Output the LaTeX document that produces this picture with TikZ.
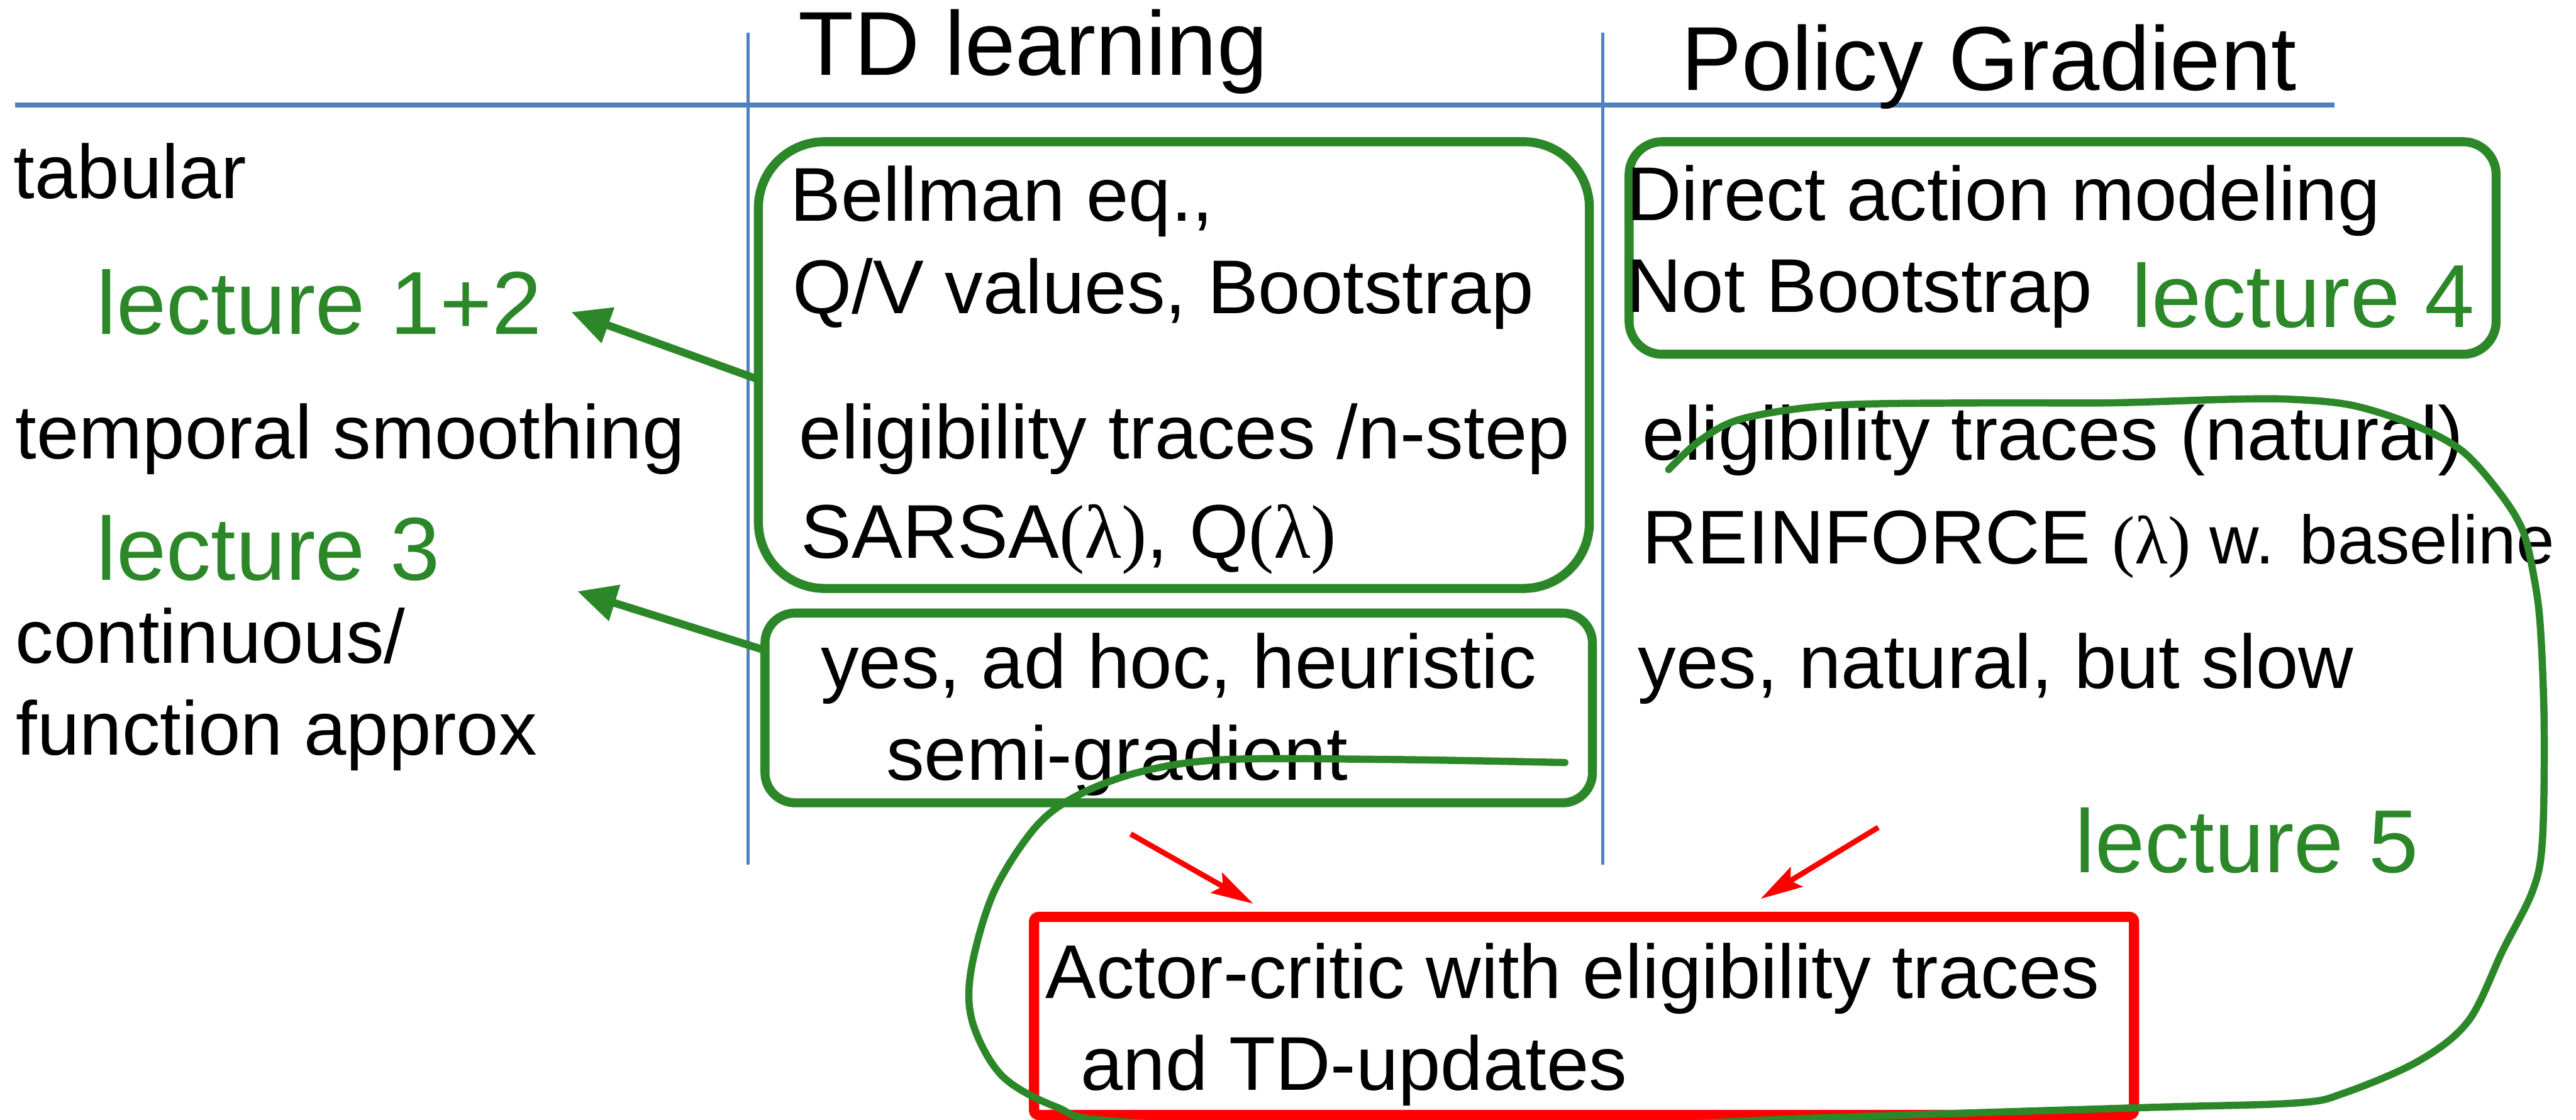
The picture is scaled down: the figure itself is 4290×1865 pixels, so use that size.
\documentclass[tikz,border=0pt]{standalone}
\usepackage{fontspec}
\setmainfont{Liberation Sans}
\newfontfamily\greekfont{Liberation Serif}
\usetikzlibrary{arrows.meta,shadows}

\definecolor{ruleblue}{RGB}{79,129,189}
\definecolor{lecgreen}{RGB}{44,135,41}
\definecolor{acred}{RGB}{255,0,0}

% lambda in brackets, set like a symbol font
\newcommand{\lam}{{\greekfont(λ)}}
\newcommand{\smallsize}{\fontsize{32.4pt}{39pt}\selectfont}

\begin{document}
\begin{tikzpicture}[x=0.1mm,y=-0.1mm,
    every node/.style={inner sep=0pt,outer sep=0pt,anchor=base west},
    colhead/.style={font=\fontsize{43pt}{51pt}\selectfont},
    cell/.style={font=\fontsize{36.1pt}{43pt}\selectfont},
    lecture/.style={font=\fontsize{42.4pt}{51pt}\selectfont,text=lecgreen},
    tablerule/.style={draw=ruleblue,line width=0.5mm},
    greenbox/.style={draw=lecgreen,line width=1.5mm,fill=white,anchor=center,
        rounded corners=#1,
        drop shadow={shadow xshift=0.3mm,shadow yshift=-0.8mm,opacity=0.2}},
    redbox/.style={draw=acred,line width=1.7mm,anchor=center,rounded corners=0.8mm},
    lecarrow/.style={draw=lecgreen,line width=1.3mm,-{Triangle[length=6.5mm,width=6mm]}},
    acarrow/.style={draw=acred,line width=0.9mm,-{Stealth[length=7mm,width=3.8mm,inset=1.2mm]}},
    lecloop/.style={draw=lecgreen,line width=1.2mm,line cap=round}]

    \useasboundingbox (0,0) rectangle (4290,1865);

    % Table rules
    \draw[tablerule,line width=0.8mm] (25,175) -- (3888,175);
    \draw[tablerule] (1246,54) -- (1246,1440);
    \draw[tablerule] (2669,54) -- (2669,1440);

    % Column headers
    \node[colhead] (tdhead) at (1330,125) {TD learning};
    \node[colhead] (pghead) at (2800,150) {Policy Gradient};

    % Row labels
    \node[cell] (tabular) at (23,330) {tabular};
    \node[cell] (temporal) at (26,764) {temporal smoothing};
    \node[cell] (contin) at (26,1104) {continuous/};
    \node[cell] (funcapprox) at (27,1257) {function approx};

    % Boxes round the cells
    \node[greenbox=11mm,minimum width=138.4mm,minimum height=74.4mm] (tdtop) at (1955,608) {};
    \node[greenbox=5mm,minimum width=137.8mm,minimum height=31.6mm] (tdlow) at (1963,1179) {};
    \node[greenbox=5.5mm,minimum width=144.4mm,minimum height=35.4mm] (pgtop) at (3435,413) {};
    \node[redbox,minimum width=183.2mm,minimum height=33mm] (actor) at (2638,1692) {};

    % TD learning column
    \node[cell] (bellman) at (1316,368) {Bellman eq.,};
    \node[cell] (qvalues) at (1320,522) {Q/V values, Bootstrap};
    \node[cell] (tdtrace) at (1331,764) {eligibility traces /n-step};
    \node[cell] (sarsa) at (1334,929) {SARSA\lam, Q\lam};
    \node[cell] (adhoc) at (1367,1146) {yes, ad hoc, heuristic};
    \node[cell] (semigrad) at (1476,1299) {semi-gradient};

    % Policy gradient column
    \node[cell] (direct) at (2709,367) {Direct action modeling};
    \node[cell] (notboot) at (2709,520) {Not Bootstrap};
    \node[cell] (pgtrace) at (2735,766) {eligibility traces (natural)};
    \node[cell] (reinforce) at (2735,939) {REINFORCE {\smallsize\lam{} w. baseline}};
    \node[cell] (natural) at (2728,1146) {yes, natural, but slow};

    % Actor-critic
    \node[cell] (actor1) at (1741,1663) {Actor-critic with eligibility traces};
    \node[cell] (actor2) at (1800,1816) {and TD-updates};

    % Lectures
    \node[lecture] (lec12) at (161,557) {lecture 1+2};
    \node[lecture] (lec3) at (161,966) {lecture 3};
    \node[lecture] (lec4) at (3550,545) {lecture 4};
    \node[lecture] (lec5) at (3456,1453) {lecture 5};

    \draw[lecarrow] ([yshift=-2.4mm]tdtop.west) -- ([shift={(49,16)}]lec12.east);
    \draw[lecarrow] ([yshift=9.6mm]tdlow.west) -- ([shift={(229,72)}]lec3.east);

    % Both columns lead to actor-critic
    \draw[acarrow] ([shift={(-80,52)}]tdlow.south) -- ([shift={(-551,-22)}]actor.north);
    \draw[acarrow] ([shift={(490,-149)}]actor.north) -- ([shift={(294,-30)}]actor.north);

    % Hand drawn loop for lecture 5
    \draw[lecloop] plot[smooth,tension=0.55] coordinates {
        (2606,1270) (2322,1265) (2041,1265) (1901,1285) (1796,1324) (1725,1377)
        (1655,1486) (1617,1617) (1620,1704) (1669,1792) (1760,1844) (1866,1868)
        (2400,1888) (3000,1863) (3559,1845) (3823,1837) (3905,1820) (4028,1767)
        (4111,1700) (4168,1583) (4218,1483) (4234,1400) (4237,1212) (4231,1050)
        (4221,967) (4201,883) (4160,817) (4099,750) (4018,707) (3917,675)
        (3815,665) (3714,665) (3511,671) (3308,671) (3055,675) (2903,697)
        (2832,733) (2779,782)};

\end{tikzpicture}
\end{document}
